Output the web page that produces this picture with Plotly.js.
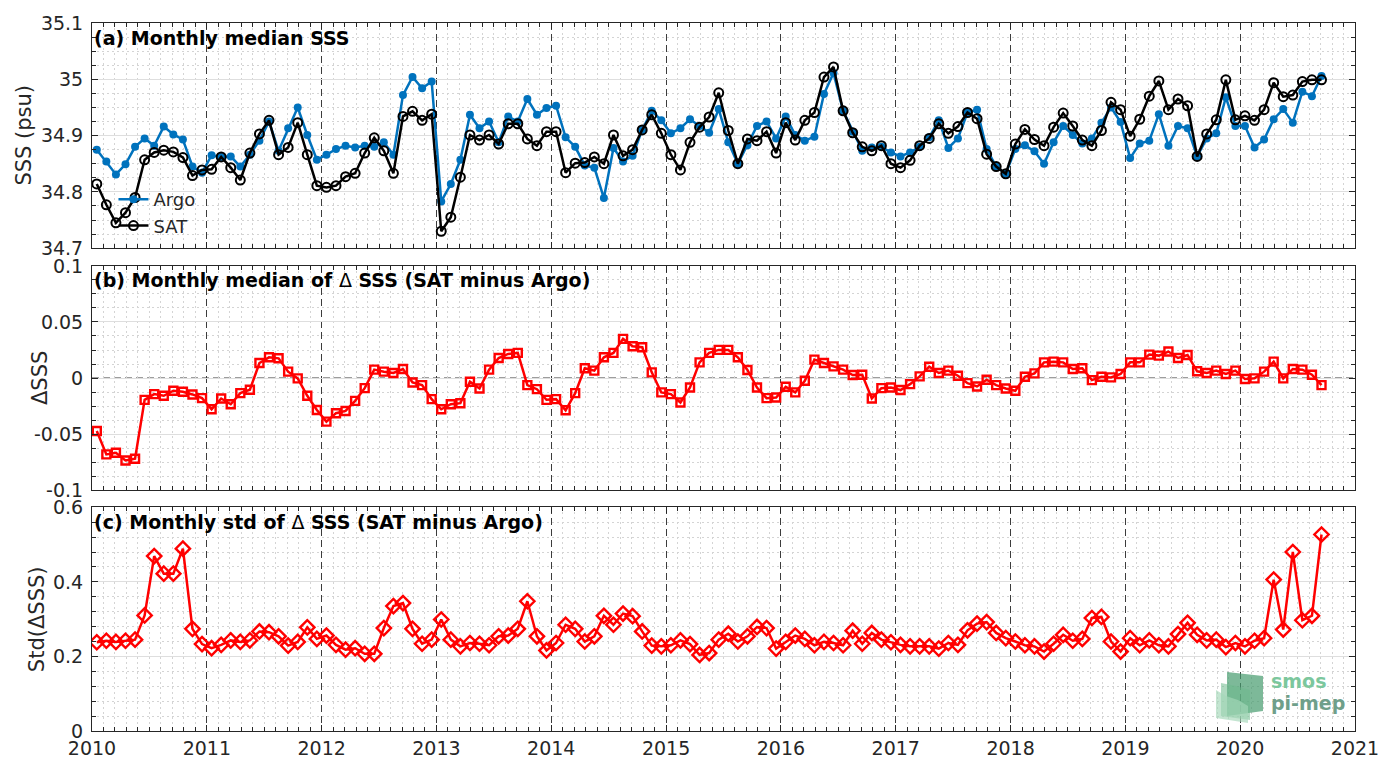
<!DOCTYPE html>
<html><head><meta charset="utf-8">
<script src="https://cdn.plot.ly/plotly-3.0.1.min.js"></script>
<style>html,body{margin:0;padding:0;background:#fff}#chart{width:1395px;height:760px}</style>
</head><body><div id="chart"></div>
<script>
const startYear = 2010;
const seriesNames = ['Argo', 'SAT'];
const panelTitles = [
  '<b>(a) Monthly median SSS</b>',
  '<b>(b) Monthly median of </b>\u0394<b> SSS (SAT minus Argo)</b>',
  '<b>(c) Monthly std of </b>\u0394<b> SSS (SAT minus Argo)</b>'
];
const yTitles = ['SSS (psu)', '\u0394SSS', 'Std(\u0394SSS)'];
const dTickVals = [-0.1, -0.05, 0, 0.05, 0.1];
const dTickText = ['-0.1', '-0.05', '0', '0.05', '0.1'];

const argo = [
  34.875,34.854,34.831,34.849,34.880,34.895,34.882,34.916,34.902,34.893,
  34.845,34.834,34.865,34.862,34.863,34.845,34.866,34.891,34.925,34.873,
  34.913,34.950,34.901,34.857,34.866,34.876,34.882,34.879,34.882,34.880,
  34.888,34.866,34.972,35.004,34.984,34.996,34.783,34.814,34.857,34.937,
  34.913,34.925,34.888,34.934,34.925,34.965,
  34.937,34.949,34.953,34.897,34.880,34.847,34.843,34.789,34.878,34.854,
  34.864,34.910,34.944,34.927,34.904,34.913,34.929,34.917,34.905,34.947,
  34.888,34.850,34.883,34.917,34.925,34.895,34.934,34.901,34.891,34.898,
  34.974,35.011,34.944,34.907,34.873,34.879,34.880,34.870,34.863,34.870,
  34.880,34.897,34.927,34.878,34.895,
  34.941,34.946,34.876,34.845,34.832,34.876,34.883,34.872,34.850,34.888,
  34.917,34.901,34.886,34.895,34.923,34.950,34.924,34.860,34.886,34.891,
  34.938,34.882,34.917,34.913,34.863,34.895,34.904,34.968,34.917,34.917,
  34.879,34.893,34.929,34.947,34.923,34.978,34.970,35.006
];
const sat = [
  34.814,34.777,34.745,34.763,34.790,34.857,34.870,34.874,34.871,34.861,
  34.829,34.839,34.840,34.862,34.843,34.821,34.869,34.903,34.927,34.866,
  34.879,34.923,34.866,34.811,34.808,34.811,34.827,34.833,34.869,34.896,
  34.873,34.833,34.934,34.943,34.927,34.938,34.730,34.755,34.826,34.901,
  34.892,34.901,34.885,34.921,34.921,34.894,
  34.882,34.907,34.907,34.834,34.851,34.852,34.862,34.850,34.901,34.864,
  34.875,34.910,34.937,34.904,34.866,34.839,34.888,34.915,34.933,34.976,
  34.909,34.850,34.894,34.891,34.907,34.869,34.923,34.892,34.927,34.941,
  35.004,35.022,34.944,34.905,34.880,34.873,34.882,34.850,34.843,34.856,
  34.882,34.895,34.921,34.904,34.916,
  34.941,34.930,34.867,34.845,34.832,34.885,34.911,34.893,34.882,34.915,
  34.940,34.917,34.892,34.882,34.909,34.959,34.946,34.899,34.929,34.970,
  34.997,34.946,34.965,34.953,34.863,34.903,34.928,34.999,34.928,34.935,
  34.927,34.946,34.994,34.969,34.972,34.996,34.999,34.999
];
const dMedian = [
  -0.0472,-0.068,-0.0666,-0.0734,-0.0719,-0.0194,-0.0143,-0.0158,-0.0113,-0.0122,
  -0.0146,-0.0179,-0.0278,-0.0182,-0.0233,-0.0134,-0.0104,0.0134,0.0185,0.0176,
  0.0057,-0.0003,-0.0158,-0.0284,-0.0388,-0.0313,-0.0293,-0.0203,-0.0090,0.0075,
  0.0057,0.0045,0.0081,-0.0039,-0.0063,-0.0188,-0.0278,-0.0233,-0.0224,-0.0033,
  -0.0093,0.0075,0.0179,0.0215,0.0224,-0.0063,
  -0.0099,-0.0194,-0.0188,-0.0287,-0.0134,0.0087,0.0066,0.0185,0.0224,0.0349,
  0.0284,0.0275,0.0051,-0.0128,-0.0143,-0.0218,-0.0084,0.0140,0.0224,0.0251,
  0.0251,0.0185,0.0072,-0.0084,-0.0179,-0.0173,-0.0078,-0.0128,-0.0024,0.0164,
  0.0134,0.0104,0.0075,0.0027,0.0030,-0.0182,-0.0090,-0.0084,-0.0107,-0.0054,
  0.0015,0.0101,0.0045,0.0066,0.0021,
  -0.0045,-0.0075,-0.0015,-0.0063,-0.0093,-0.0113,0.0012,0.0042,0.0140,0.0146,
  0.0140,0.0081,0.0087,-0.0018,0.0012,0.0006,0.0036,0.0140,0.0140,0.0209,
  0.0200,0.0236,0.0179,0.0206,0.0060,0.0045,0.0066,0.0036,0.0066,-0.0009,
  -0.0003,0.0057,0.0146,-0.0003,0.0081,0.0075,0.0030,-0.0063
];
const dStd = [
  0.238,0.242,0.239,0.242,0.245,0.310,0.469,0.422,0.422,0.489,
  0.274,0.233,0.222,0.231,0.243,0.239,0.243,0.267,0.265,0.254,
  0.229,0.239,0.278,0.247,0.256,0.231,0.218,0.222,0.207,0.207,
  0.276,0.335,0.343,0.274,0.234,0.245,0.299,0.245,0.227,0.236,
  0.234,0.230,0.254,0.256,0.274,0.348,
  0.254,0.216,0.236,0.285,0.274,0.240,0.254,0.309,0.285,0.315,
  0.308,0.267,0.229,0.227,0.230,0.243,0.233,0.204,0.209,0.245,
  0.261,0.240,0.254,0.279,0.276,0.221,0.239,0.256,0.247,0.230,
  0.239,0.236,0.230,0.269,0.234,0.263,0.245,0.238,0.231,0.227,
  0.227,0.227,0.221,0.236,0.231,
  0.270,0.288,0.292,0.263,0.249,0.240,0.230,0.227,0.213,0.234,
  0.258,0.242,0.247,0.303,0.306,0.240,0.213,0.249,0.230,0.243,
  0.230,0.227,0.260,0.290,0.258,0.243,0.245,0.225,0.236,0.227,
  0.242,0.249,0.406,0.272,0.480,0.297,0.309,0.527
];

// mid-month decimal-year positions
const months = argo.map((_, i) => startYear + (i + 0.5) / 12);

const FONT = 'DejaVu Sans, Arial, sans-serif';
const INK = '#262626';
const BLUE = '#0072BD';
const RED = '#FF0000';

const traces = [
  {x: months, y: argo, name: seriesNames[0], xaxis: 'x', yaxis: 'y', mode: 'lines+markers',
   line: {color: BLUE, width: 2.5}, marker: {symbol: 'circle', size: 8, color: BLUE}},
  {x: months, y: sat, name: seriesNames[1], xaxis: 'x', yaxis: 'y', mode: 'lines+markers',
   line: {color: '#000000', width: 2.5}, marker: {symbol: 'circle-open', size: 9, color: '#000000', line: {width: 2}}},
  {x: months, y: dMedian, xaxis: 'x2', yaxis: 'y2', mode: 'lines+markers', showlegend: false,
   line: {color: RED, width: 2.5}, marker: {symbol: 'square-open', size: 8, color: RED, line: {width: 2.4}}},
  {x: months, y: dStd, xaxis: 'x3', yaxis: 'y3', mode: 'lines+markers', showlegend: false,
   line: {color: RED, width: 2.5}, marker: {symbol: 'diamond-open', size: 11, color: RED, line: {width: 2.4}}}
];

function xAxis(anchor, showLabels) {
  const ax = {
    range: [2010, 2021], anchor: anchor, tickmode: 'linear', tick0: 2010, dtick: 1,
    showticklabels: showLabels, ticks: 'inside', ticklen: 6, tickcolor: INK,
    showline: true, linecolor: INK, linewidth: 1, mirror: 'allticks',
    showgrid: true, gridcolor: '#3c3c3c', griddash: '7px,4px', gridwidth: 1,
    zeroline: false,
    minor: {tickmode: 'linear', tick0: 2010, dtick: 0.1, ticks: 'inside', ticklen: 4, tickcolor: INK,
            showgrid: true, gridcolor: '#d4d4d4', griddash: '2px,3px', gridwidth: 1},
    tickfont: {family: FONT, size: 19, color: INK}
  };
  if (anchor !== 'y') ax.matches = 'x';
  return ax;
}
function yAxis(domain, range, dtick, minorDtick) {
  return {
    domain: domain, range: range, tickmode: 'linear', tick0: range[0], dtick: dtick,
    ticks: 'inside', ticklen: 6, tickcolor: INK, ticklabelstandoff: 4,
    showline: true, linecolor: INK, linewidth: 1, mirror: 'allticks',
    showgrid: true, gridcolor: '#dedede', gridwidth: 1, zeroline: false,
    minor: {tickmode: 'linear', tick0: range[0], dtick: minorDtick, ticks: 'inside', ticklen: 4, tickcolor: INK,
            showgrid: true, gridcolor: '#d4d4d4', griddash: '2px,3px', gridwidth: 1},
    tickfont: {family: FONT, size: 19, color: INK}
  };
}

const yA = yAxis([0.682, 1], [34.7, 35.1], 0.1, 0.025);
const yB = yAxis([0.340, 0.657], [-0.1, 0.1], 0.05, 0.0125);
yB.tickmode = 'array'; yB.tickvals = dTickVals; yB.ticktext = dTickText;
const yC = yAxis([0, 0.316], [0, 0.6], 0.2, 0.04);

const W = 1395, H = 760, ML = 92, MR = 40, MT = 23, MB = 29;
const PW = W - ML - MR, PH = H - MT - MB;
const px = v => (v - ML) / PW;
const py = v => (H - MB - v) / PH;

function poly(pts, fill) {
  return {type: 'path', xref: 'paper', yref: 'paper', layer: 'above', line: {width: 0}, fillcolor: fill,
          path: 'M' + pts.map(p => px(p[0]).toFixed(5) + ',' + py(p[1]).toFixed(5)).join('L') + 'Z'};
}

const shapes = [
  {type: 'line', xref: 'x2 domain', x0: 0, x1: 1, yref: 'y2', y0: 0, y1: 0, layer: 'below',
   line: {color: '#3c3c3c', width: 1.2, dash: '7px,4px'}},
  poly([[1227,672],[1263,676],[1263,711],[1227,716]], 'rgba(70,155,110,0.70)'),
  poly([[1221,683],[1236,686],[1250,690],[1250,720],[1221,716]], 'rgba(110,185,140,0.55)'),
  poly([[1216,690],[1226,696],[1238,700],[1248,706],[1248,723],[1216,718]], 'rgba(165,215,185,0.65)')
];

const yDomains = ['y', 'y2', 'y3'];
const titleShift = [-2, -1, -2];
const yTitleX = [24, 40, 37];
const annotations = [];
panelTitles.forEach((t, k) => {
  annotations.push({text: t, xref: 'paper', x: 0, xanchor: 'left', xshift: 0,
    yref: yDomains[k] + ' domain', y: 1, yanchor: 'top', yshift: titleShift[k], showarrow: false,
    font: {family: FONT, size: 19, color: '#000'}});
  annotations.push({text: yTitles[k], xref: 'paper', x: 0, xanchor: 'center', xshift: yTitleX[k] - ML,
    yref: yDomains[k] + ' domain', y: 0.5, yanchor: 'middle', textangle: -90, showarrow: false,
    font: {family: FONT, size: 21, color: INK}});
});
annotations.push({text: '<b>smos</b>', xref: 'paper', yref: 'paper', x: px(1269), y: py(681), xanchor: 'left', yanchor: 'middle',
  showarrow: false, font: {family: FONT, size: 19, color: '#7cc79d'}});
annotations.push({text: '<b>pi-mep</b>', xref: 'paper', yref: 'paper', x: px(1269), y: py(703), xanchor: 'left', yanchor: 'middle',
  showarrow: false, font: {family: FONT, size: 19, color: '#6f9f8a'}});

const layout = {
  width: W, height: H,
  margin: {l: ML, r: MR, t: MT, b: MB, pad: 0},
  paper_bgcolor: '#ffffff', plot_bgcolor: '#ffffff',
  font: {family: FONT, color: INK},
  showlegend: true,
  legend: {x: 0.017, y: py(181), xanchor: 'left', yanchor: 'top', bgcolor: 'rgba(0,0,0,0)',
           font: {family: FONT, size: 18, color: INK}, tracegroupgap: 0, itemwidth: 30},
  xaxis: xAxis('y', false),
  xaxis2: xAxis('y2', false),
  xaxis3: xAxis('y3', true),
  yaxis: yA, yaxis2: yB, yaxis3: yC,
  shapes: shapes,
  annotations: annotations
};

Plotly.newPlot('chart', traces, layout, {displayModeBar: false, staticPlot: true});
</script>
</body></html>
